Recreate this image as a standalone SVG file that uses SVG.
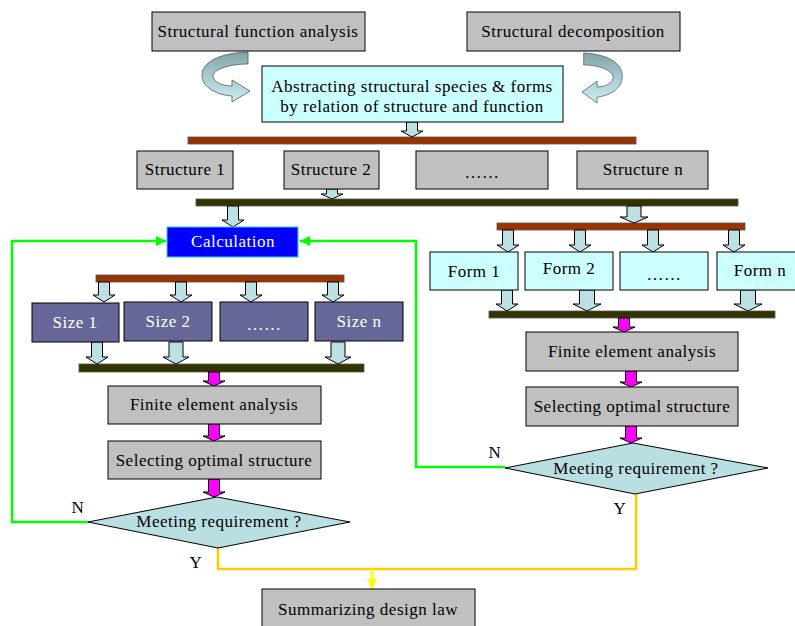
<svg xmlns="http://www.w3.org/2000/svg" width="795" height="626" viewBox="0 0 795 626">
<defs>
<style>
text{font-family:"Liberation Serif","Times New Roman",serif;font-size:17px;letter-spacing:0.5px;fill:#000;text-anchor:middle}
.gray{fill:#C0C0C0;stroke:#000;stroke-width:1}
.cyan{fill:#CCFFFF;stroke:#000;stroke-width:1}
.size{fill:#666699;stroke:#000;stroke-width:1}
.wt{fill:#fff}
.brown{fill:#993300;stroke:#555;stroke-width:0.8}
.dark{fill:#333300;stroke:#555;stroke-width:0.8}
.blk{fill:#BCE0E4;stroke:#000;stroke-width:1}
.mag{fill:#FF00FF;stroke:#000;stroke-width:1}
.dia{fill:#BADFE2;stroke:#000;stroke-width:1}
.green{fill:none;stroke:#00FF00;stroke-width:2.5}
.gold{fill:none;stroke:#FFCC00;stroke-width:2.5}
.curv{fill:url(#rib);stroke:#556;stroke-width:0.8}
</style>
<linearGradient id="rib" x1="0" y1="0" x2="0" y2="1">
<stop offset="0" stop-color="#7FA3A6"/>
<stop offset="0.5" stop-color="#A8CCD0"/>
<stop offset="1" stop-color="#CDEDF0"/>
</linearGradient>
<marker id="ga" viewBox="0 0 10 10" refX="10" refY="5" markerWidth="10" markerHeight="10" markerUnits="userSpaceOnUse" orient="auto">
<path d="M0,0 L10,5 L0,10 Z" fill="#00FF00"/>
</marker>
<marker id="ya" viewBox="0 0 10 10" refX="10" refY="5" markerWidth="10" markerHeight="10" markerUnits="userSpaceOnUse" orient="auto">
<path d="M0,0 L10,5 L0,10 Z" fill="#FFFF00"/>
</marker>
</defs>
<rect width="795" height="626" fill="#fff"/>

<g id="connectors">
<path class="curv" d="M248 52 C220 53,202 62,202 75 C202 88,218 95,232 96 L232 102 L250 91 L232 80 L232 86 C222 86,213 82,213 76 C213 70,228 64,248 64 Z"/>
<path class="curv" transform="matrix(-0.84 0 0 1 792 1)" d="M248 52 C220 53,202 62,202 75 C202 88,218 95,232 96 L232 102 L250 91 L232 80 L232 86 C222 86,213 82,213 76 C213 70,228 64,248 64 Z"/>
<rect class="brown" x="188" y="137" width="448" height="7"/>
<rect class="dark" x="196" y="199" width="542" height="7"/>
<rect class="brown" x="497" y="223" width="248" height="7"/>
<rect class="dark" x="489" y="311" width="286" height="7"/>
<rect class="brown" x="96" y="275" width="248" height="7"/>
<rect class="dark" x="79" y="364" width="285" height="8"/>
<polygon class="blk" points="406.5,122 417.5,122 417.5,131 423,131 412,137 401,131 406.5,131"/>
<polygon class="blk" points="326.5,189 337.5,189 337.5,194 343,194 332,199 321,194 326.5,194"/>
<polygon class="blk" points="227.5,206 238.5,206 238.5,220 244,220 233,227 222,220 227.5,220"/>
<polygon class="blk" points="627,206 641,206 641,217 648,217 634,223 620,217 627,217"/>
<polygon class="blk" points="502.5,230 513.5,230 513.5,245 519,245 508,252 497,245 502.5,245"/>
<polygon class="blk" points="574.5,230 585.5,230 585.5,245 591,245 580,252 569,245 574.5,245"/>
<polygon class="blk" points="647.5,230 658.5,230 658.5,245 664,245 653,252 642,245 647.5,245"/>
<polygon class="blk" points="728.5,230 739.5,230 739.5,245 745,245 734,252 723,245 728.5,245"/>
<polygon class="blk" points="501.5,290 512.5,290 512.5,304 518,304 507,311 496,304 501.5,304"/>
<polygon class="blk" points="579.5,290 594.5,290 594.5,304 601,304 587,311 573,304 579.5,304"/>
<polygon class="blk" points="740.5,290 755.5,290 755.5,304 762,304 748,311 734,304 740.5,304"/>
<polygon class="blk" points="98.5,282 109.5,282 109.5,295 115,295 104,302 93,295 98.5,295"/>
<polygon class="blk" points="175.5,282 186.5,282 186.5,295 192,295 181,302 170,295 175.5,295"/>
<polygon class="blk" points="245.5,282 256.5,282 256.5,295 262,295 251,302 240,295 245.5,295"/>
<polygon class="blk" points="327.5,282 338.5,282 338.5,295 344,295 333,302 322,295 327.5,295"/>
<polygon class="blk" points="91.5,342 102.5,342 102.5,357 108,357 97,364 86,357 91.5,357"/>
<polygon class="blk" points="169,342 183,342 183,357 189,357 176,364 163,357 169,357"/>
<polygon class="blk" points="331,342 345,342 345,357 351,357 338,364 325,357 331,357"/>
<polygon class="mag" points="208.5,372 219.5,372 219.5,381 225,381 214,386 203,381 208.5,381"/>
<polygon class="mag" points="208.5,424 219.5,424 219.5,436 225,436 214,441 203,436 208.5,436"/>
<polygon class="mag" points="208.5,479 219.5,479 219.5,492 225,492 214,497 203,492 208.5,492"/>
<polygon class="mag" points="618.5,318 629.5,318 629.5,327 635,327 624,332 613,327 618.5,327"/>
<polygon class="mag" points="625.5,371 636.5,371 636.5,382 642,382 631,387 620,382 625.5,382"/>
<polygon class="mag" points="625.5,426 636.5,426 636.5,438 642,438 631,443 620,438 625.5,438"/>
<polyline class="green" points="88,522 12,522 12,241 166,241" marker-end="url(#ga)"/>
<polyline class="green" points="505,467 416,467 416,241 300,241" marker-end="url(#ga)"/>
<polyline class="gold" points="218,548 218,569 636,569 636,494"/>
<line x1="372" y1="569" x2="372" y2="589" stroke="#FFFF00" stroke-width="2.5" marker-end="url(#ya)"/>
<text x="78" y="513">N</text>
<text x="495" y="458">N</text>
<text x="196" y="568">Y</text>
<text x="620" y="514">Y</text>
</g>

<g id="func"><rect class="gray" x="152" y="12" width="213" height="39"/><text x="258" y="37">Structural function analysis</text></g>
<g id="decomp"><rect class="gray" x="467" y="12" width="213" height="39"/><text x="573" y="37">Structural decomposition</text></g>
<g id="abstract"><rect class="cyan" x="262" y="66" width="301" height="56"/><text x="412" y="92">Abstracting structural species &amp; forms</text><text x="412" y="112">by relation of structure and function</text></g>
<g id="s1"><rect class="gray" x="137" y="151" width="96" height="38"/><text x="185" y="175">Structure 1</text></g>
<g id="s2"><rect class="gray" x="284" y="151" width="95" height="38"/><text x="331" y="175">Structure 2</text></g>
<g id="sdots"><rect class="gray" x="416" y="151" width="132" height="38"/><text x="482" y="178">……</text></g>
<g id="sn"><rect class="gray" x="577" y="151" width="131" height="38"/><text x="643" y="175">Structure n</text></g>
<g id="calc"><rect x="167" y="227" width="131" height="30" fill="#0000FF" stroke="#33CCFF" stroke-width="1"/><text class="wt" x="233" y="247">Calculation</text></g>
<g id="f1"><rect class="cyan" x="430" y="252" width="88" height="38"/><text x="474" y="277">Form 1</text></g>
<g id="f2"><rect class="cyan" x="525" y="252" width="88" height="38"/><text x="569" y="274">Form 2</text></g>
<g id="fdots"><rect class="cyan" x="620" y="252" width="88" height="38"/><text x="664" y="280">……</text></g>
<g id="fn"><rect class="cyan" x="717" y="252" width="80" height="38"/><text x="760" y="276">Form n</text></g>
<g id="z1"><rect class="size" x="32" y="303" width="87" height="39"/><text class="wt" x="75" y="328">Size 1</text></g>
<g id="z2"><rect class="size" x="124" y="302" width="88" height="39"/><text class="wt" x="168" y="327">Size 2</text></g>
<g id="zdots"><rect class="size" x="220" y="302" width="88" height="39"/><text class="wt" x="264" y="330">……</text></g>
<g id="zn"><rect class="size" x="315" y="302" width="88" height="39"/><text class="wt" x="359" y="327">Size n</text></g>
<g id="feaL"><rect class="gray" x="108" y="386" width="213" height="38"/><text x="214" y="410">Finite element analysis</text></g>
<g id="selL"><rect class="gray" x="108" y="441" width="213" height="38"/><text x="214" y="466">Selecting optimal structure</text></g>
<g id="diaL"><polygon class="dia" points="217,497 350,522 218,548 88,522"/><text x="219" y="527">Meeting requirement ?</text></g>
<g id="feaR"><rect class="gray" x="526" y="332" width="212" height="39"/><text x="632" y="357">Finite element analysis</text></g>
<g id="selR"><rect class="gray" x="526" y="387" width="212" height="39"/><text x="632" y="412">Selecting optimal structure</text></g>
<g id="diaR"><polygon class="dia" points="633,443 768,468 635,494 505,468"/><text x="636" y="474">Meeting requirement ?</text></g>
<g id="summ"><rect class="gray" x="262" y="589" width="213" height="45"/><text x="368" y="615">Summarizing design law</text></g>
</svg>
